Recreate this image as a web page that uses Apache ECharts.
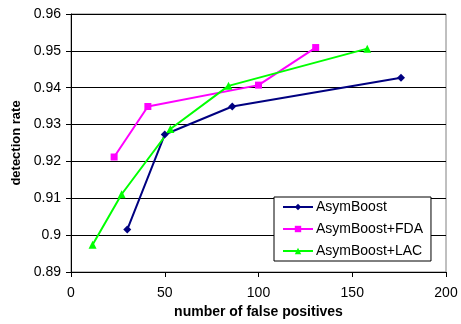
<!DOCTYPE html>
<html>
<head>
<meta charset="utf-8">
<script src="https://cdn.jsdelivr.net/npm/echarts@6/dist/echarts.min.js"></script>
<style>
  html, body { margin: 0; padding: 0; background: #fff; }
  #chart { width: 461px; height: 324px; }
</style>
</head>
<body>
<div id="chart"></div>
<script>
// Detection rate vs. number of false positives for three boosting variants
const seriesNames = ['AsymBoost', 'AsymBoost+FDA', 'AsymBoost+LAC'];

const asymX = [30, 50, 86, 176];
const asymY = [0.9015, 0.9273, 0.9349, 0.9427];

const fdaX = [23, 41, 100, 130.5];
const fdaY = [0.9212, 0.9349, 0.9407, 0.9509];

const lacX = [11.5, 27, 53, 84, 158];
const lacY = [0.8974, 0.9111, 0.9288, 0.9405, 0.9506];

const xTicks = [0, 50, 100, 150, 200];
const yTicks = [0.89, 0.90, 0.91, 0.92, 0.93, 0.94, 0.95, 0.96];

const pairs = (xs, ys) => xs.map((x, i) => [x, ys[i]]);

const chart = echarts.init(document.getElementById('chart'));
const FONT = 'Liberation Sans, Arial, sans-serif';
const labelFont = { color: '#000', fontFamily: FONT, fontSize: 14 };

chart.setOption({
  animation: false,
  grid: { left: 71, right: 15, top: 14, bottom: 52, show: true, borderColor: '#808080', borderWidth: 1 },
  xAxis: {
    type: 'value',
    min: xTicks[0], max: xTicks[xTicks.length - 1], interval: 50,
    name: 'number of false positives',
    nameLocation: 'middle', nameGap: 33,
    nameTextStyle: { fontFamily: FONT, fontSize: 14, fontWeight: 'bold', color: '#000' },
    axisLine: { show: true, lineStyle: { color: '#000', width: 1 } },
    axisTick: { show: true, inside: false, length: 5, lineStyle: { color: '#000' } },
    axisLabel: Object.assign({ margin: 14 }, labelFont),
    splitLine: { show: false }
  },
  yAxis: {
    type: 'value',
    min: yTicks[0], max: yTicks[yTicks.length - 1], interval: 0.01,
    name: 'detection rate',
    nameLocation: 'middle', nameGap: 44, nameRotate: 90,
    nameTextStyle: { fontFamily: FONT, fontSize: 13, fontWeight: 'bold', color: '#000' },
    axisLine: { show: true, lineStyle: { color: '#000', width: 1 } },
    axisTick: { show: true, inside: false, length: 5, lineStyle: { color: '#000' } },
    axisLabel: Object.assign({ margin: 10, formatter: v => String(+v.toFixed(2)) }, labelFont),
    splitLine: { show: true, lineStyle: { color: '#000', width: 1 } }
  },
  legend: {
    orient: 'vertical',
    left: 274, top: 197,
    width: 156, height: 63,
    padding: [3, 8, 3, 8],
    itemGap: 8,
    itemWidth: 30, itemHeight: 8,
    backgroundColor: '#fff',
    borderColor: '#000', borderWidth: 1,
    textStyle: { fontFamily: FONT, fontSize: 14, color: '#000', padding: [0, 0, 0, -2] },
    data: seriesNames
  },
  series: [
    {
      name: seriesNames[0], type: 'line', data: pairs(asymX, asymY),
      symbol: 'diamond', symbolSize: 8,
      lineStyle: { color: '#000080', width: 2 },
      itemStyle: { color: '#000080' }
    },
    {
      name: seriesNames[1], type: 'line', data: pairs(fdaX, fdaY),
      symbol: 'rect', symbolSize: 7,
      lineStyle: { color: '#ff00ff', width: 2 },
      itemStyle: { color: '#ff00ff' }
    },
    {
      name: seriesNames[2], type: 'line', data: pairs(lacX, lacY),
      symbol: 'triangle', symbolSize: 8,
      lineStyle: { color: '#00ff00', width: 2 },
      itemStyle: { color: '#00ff00' }
    }
  ]
});
</script>
</body>
</html>
